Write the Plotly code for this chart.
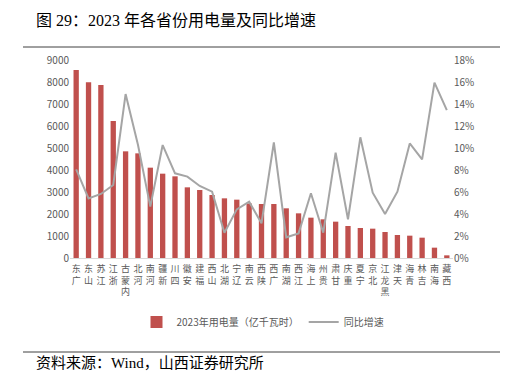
import plotly.graph_objects as go

provinces = ["广东", "山东", "江苏", "浙江", "内蒙古", "河北", "河南", "新疆", "四川", "安徽",
             "福建", "山西", "湖北", "辽宁", "云南", "陕西", "广西", "湖南", "江西", "上海",
             "贵州", "甘肃", "重庆", "宁夏", "北京", "黑龙江", "天津", "青海", "吉林", "海南", "西藏"]
consumption = [8545, 7985, 7864, 6227, 4848, 4757, 4106, 3833, 3712, 3212,
               3091, 2864, 2712, 2652, 2480, 2454, 2454, 2258, 2030, 1833,
               1758, 1652, 1455, 1364, 1333, 1182, 1045, 1015, 924, 470, 121]
growth_pct = [8.06, 5.42, 5.82, 6.64, 14.9, 10.3, 4.67, 10.27, 7.7, 7.4,
              6.55, 6.03, 2.3, 4.42, 5.12, 3.15, 10.5, 1.88, 2.24, 5.88,
              2.3, 9.58, 3.52, 10.97, 5.94, 4.0, 6.03, 10.42, 8.97, 15.94, 13.45]
left_ticks = list(range(0, 9001, 1000))
right_ticks = [v / 100 for v in range(0, 19, 2)]

W, H = 509, 387
L, R, T, B = 70, 56, 60, 129
PW, PH = W - L - R, H - T - B


def px(x):
    return (x - L) / PW


def py(y):
    return (H - B - y) / PH


# stacked labels: read bottom-to-top, last char near axis
labels = ["<br>".join(reversed(list(p))) for p in provinces]
growth = [g / 100 for g in growth_pct]

CJK = "Noto Sans CJK SC"
SERIF = "Liberation Serif, Noto Sans CJK SC"
gray = "#595959"

fig = go.Figure()
fig.add_trace(go.Bar(
    x=labels, y=consumption, name="2023年用电量（亿千瓦时）",
    marker=dict(color="#C0504D", line=dict(width=0)),
    yaxis="y"))
fig.add_trace(go.Scatter(
    x=labels, y=growth, name="同比增速", mode="lines",
    line=dict(color="#A5A5A5", width=2), yaxis="y2"))

fig.update_layout(
    width=W, height=H,
    margin=dict(l=L, r=R, t=T, b=B, autoexpand=False),
    paper_bgcolor="white", plot_bgcolor="white",
    bargap=0.57,
    font=dict(family=CJK, size=10, color=gray),
    xaxis=dict(type="category", showgrid=False, showline=True,
               linecolor="#D9D9D9", linewidth=1, ticks="",
               tickfont=dict(family=CJK, size=9, color=gray),
               tickangle=0, ticklabelstandoff=2),
    yaxis=dict(range=[0, 9000], tickvals=left_ticks, showgrid=False,
               showline=False, zeroline=False, ticks="",
               tickfont=dict(size=10, color=gray)),
    yaxis2=dict(range=[0, 0.18], tickvals=right_ticks, tickformat=".0%",
                overlaying="y", side="right", showgrid=False,
                showline=False, zeroline=False, ticks="",
                tickfont=dict(size=10, color=gray)),
    legend=dict(orientation="h", x=px(263), xanchor="center",
                y=py(322), yanchor="middle",
                font=dict(family=CJK, size=10, color=gray),
                bgcolor="rgba(0,0,0,0)"),
    showlegend=True,
)

# title and source
fig.add_annotation(text="图 29：2023 年各省份用电量及同比增速",
                   xref="paper", yref="paper", x=px(34), y=py(21),
                   xanchor="left", yanchor="middle", showarrow=False,
                   font=dict(family=SERIF, size=16, color="#000000"))
fig.add_annotation(text="资料来源：Wind，山西证券研究所",
                   xref="paper", yref="paper", x=px(34), y=py(363),
                   xanchor="left", yanchor="middle", showarrow=False,
                   font=dict(family=SERIF, size=15, color="#000000"))

for yy in (47, 352):
    fig.add_shape(type="line", xref="paper", yref="paper",
                  x0=px(23), x1=px(500), y0=py(yy), y1=py(yy),
                  line=dict(color="#404040", width=1))

fig.write_html("out.html",
               config={"displayModeBar": False},
               post_script="document.body.style.margin='0';document.body.style.overflow='hidden';")
